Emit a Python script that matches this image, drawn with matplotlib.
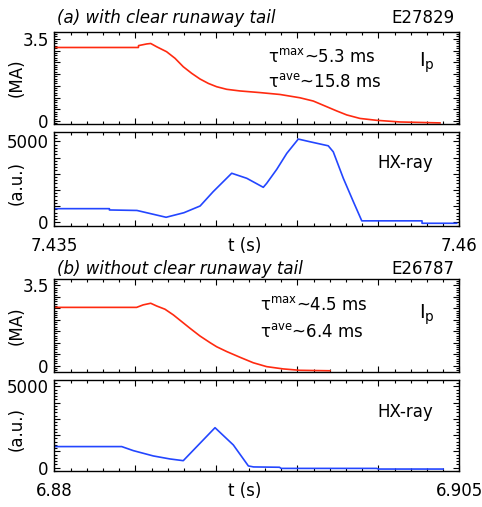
import numpy as np
import matplotlib
matplotlib.use("Agg")
import matplotlib.pyplot as plt
from matplotlib.ticker import MultipleLocator, FuncFormatter

# ---- data ----
# (a) E27829, with clear runaway tail
t_ip_a = [7.435, 7.44019, 7.4402, 7.4407, 7.44095, 7.44132, 7.44193, 7.44245,
          7.44296, 7.44348, 7.44399, 7.44451, 7.44502, 7.44564, 7.44646, 7.4477,
          7.44893, 7.45016, 7.45099, 7.45171, 7.45243, 7.45305, 7.45387, 7.4549,
          7.45634, 7.45881]
ip_a = [3.13, 3.13, 3.21, 3.28, 3.30, 3.16, 2.95, 2.67, 2.31, 2.03, 1.79, 1.60,
        1.46, 1.35, 1.28, 1.21, 1.13, 0.99, 0.85, 0.64, 0.43, 0.26, 0.11, 0.03,
        -0.04, -0.08]
t_hx_a = [7.435, 7.4384, 7.4384, 7.4401, 7.4419, 7.4430, 7.4440, 7.4448, 7.44595,
          7.44688, 7.4479, 7.44811, 7.44873, 7.44935, 7.45006, 7.45078, 7.45191,
          7.45222, 7.45284, 7.45346, 7.45398, 7.4577, 7.4577, 7.45984]
hx_a = [850, 850, 770, 740, 320, 600, 1015, 1890, 3030, 2720, 2165, 2410, 3270,
        4255, 5135, 4970, 4720, 4350, 2720, 1280, 100, 100, -50, -50]

# (b) E26787, without clear runaway tail
t_ip_b = [6.88, 6.88508, 6.88549, 6.88595, 6.88632, 6.88683, 6.88735, 6.88786,
          6.88837, 6.88899, 6.88961, 6.89002, 6.89064, 6.89146, 6.89228, 6.89311,
          6.89414, 6.89516, 6.89702]
ip_b = [2.54, 2.54, 2.65, 2.72, 2.60, 2.46, 2.21, 1.92, 1.63, 1.29, 1.00, 0.82,
        0.61, 0.36, 0.12, -0.05, -0.15, -0.21, -0.23]
t_hx_b = [6.88, 6.88416, 6.88488, 6.88611, 6.88714, 6.88796, 6.88899, 6.88992,
          6.89105, 6.89198, 6.8923, 6.8939, 6.8940, 6.8999, 6.9000, 6.904]
hx_b = [1300, 1300, 1050, 725, 540, 435, 1500, 2460, 1400, 110, 50, 30, -40,
        -40, -80, -80]

titles = ["(a) with clear runaway tail", "(b) without clear runaway tail"]
shots = ["E27829", "E26787"]
tau_max = ["5.3 ms", "4.5 ms"]
tau_ave = ["15.8 ms", "6.4 ms"]
xlims = [(7.435, 7.46), (6.88, 6.905)]
xtick_labels = [{7.435: "7.435", 7.46: "7.46"}, {6.88: "6.88", 6.905: "6.905"}]
ip_ticks = {0.0: "0", 3.5: "3.5"}
hx_ticks = {0.0: "0", 5000.0: "5000"}

RED = "#ff2a10"
BLUE = "#2346ff"
FS = 12

plt.rcParams["font.family"] = "DejaVu Sans"
plt.rcParams["mathtext.fontset"] = "dejavusans"


def label_only(mapping):
    """Formatter that labels only the tick values in mapping."""
    def fmt(v, pos):
        for key, txt in mapping.items():
            if abs(v - key) < 1e-6 * max(1.0, abs(key)):
                return txt
        return ""
    return FuncFormatter(fmt)


def style_axis(axe, ymajor, yminor, ylabels):
    axe.tick_params(which="both", direction="in", top=True, right=True,
                    labelsize=FS, width=0.8)
    axe.tick_params(which="major", length=4.5, pad=4)
    axe.tick_params(which="minor", length=2.2)
    axe.tick_params(axis="x", which="major", pad=8)
    axe.xaxis.set_major_locator(MultipleLocator(0.005))
    axe.xaxis.set_minor_locator(MultipleLocator(0.001))
    axe.yaxis.set_major_locator(MultipleLocator(ymajor))
    axe.yaxis.set_minor_locator(MultipleLocator(yminor))
    axe.yaxis.set_major_formatter(label_only(ylabels))
    for sp in axe.spines.values():
        sp.set_linewidth(1.0)


def draw_case(fig, i, rect_top, rect_bot, ip_ylim, hx_ylim, title_y,
              tau_pos, ip_pos, hx_pos):
    t_ip, ip, t_hx, hx = [(t_ip_a, ip_a, t_hx_a, hx_a),
                          (t_ip_b, ip_b, t_hx_b, hx_b)][i]
    ax1 = fig.add_axes(rect_top)
    ax2 = fig.add_axes(rect_bot)

    ax1.plot(t_ip, ip, color=RED, linewidth=1.2)
    ax2.plot(t_hx, hx, color=BLUE, linewidth=1.2)

    for axe in (ax1, ax2):
        axe.set_xlim(*xlims[i])
    ax1.set_ylim(*ip_ylim)
    ax2.set_ylim(*hx_ylim)
    style_axis(ax1, 0.5, 0.1, ip_ticks)
    style_axis(ax2, 1000, 200, hx_ticks)
    ax1.tick_params(labelbottom=False)
    ax2.xaxis.set_major_formatter(label_only(xtick_labels[i]))

    ax1.set_ylabel("(MA)", fontsize=FS, va="center")
    ax1.yaxis.set_label_coords(-0.093, 0.5)
    ax2.set_ylabel("(a.u.)", fontsize=FS, va="center")
    ax2.yaxis.set_label_coords(-0.093, 0.46)
    ax2.set_xlabel("t (s)", fontsize=FS, va="center")
    ax2.xaxis.set_label_coords(0.47, -0.215)

    ax1.text(0.007, title_y, titles[i], transform=ax1.transAxes, fontsize=FS,
             style="italic", va="baseline", ha="left")
    ax1.text(0.987, title_y, shots[i], transform=ax1.transAxes, fontsize=FS,
             va="baseline", ha="right")
    ax1.text(tau_pos[0], tau_pos[1], "τ$^{\\mathrm{max}}$~" + tau_max[i],
             transform=ax1.transAxes, fontsize=FS, va="baseline")
    ax1.text(tau_pos[0], tau_pos[2], "τ$^{\\mathrm{ave}}$~" + tau_ave[i],
             transform=ax1.transAxes, fontsize=FS, va="baseline")
    ax1.text(ip_pos[0], ip_pos[1], "I$_\\mathrm{p}$", transform=ax1.transAxes,
             fontsize=FS + 2, va="baseline")
    ax2.text(hx_pos[0], hx_pos[1], "HX-ray", transform=ax2.transAxes,
             fontsize=FS, va="baseline")
    return ax1, ax2


if __name__ == "__main__":
    fig = plt.figure(figsize=(4.82, 5.07), dpi=100)
    left, width = 0.1127, 0.8402
    draw_case(fig, 0, [left, 0.7548, width, 0.1826], [left, 0.5548, width, 0.1842],
              (-0.14, 3.8), (-200, 5550), 1.09,
              (0.528, 0.673, 0.40), (0.900, 0.619), (0.797, 0.618))
    draw_case(fig, 1, [left, 0.2669, width, 0.1828], [left, 0.0710, width, 0.1795],
              (-0.27, 3.78), (-200, 5390), 1.055,
              (0.508, 0.666, 0.37), (0.900, 0.576), (0.797, 0.597))
    fig.savefig("out.png", dpi=100)
